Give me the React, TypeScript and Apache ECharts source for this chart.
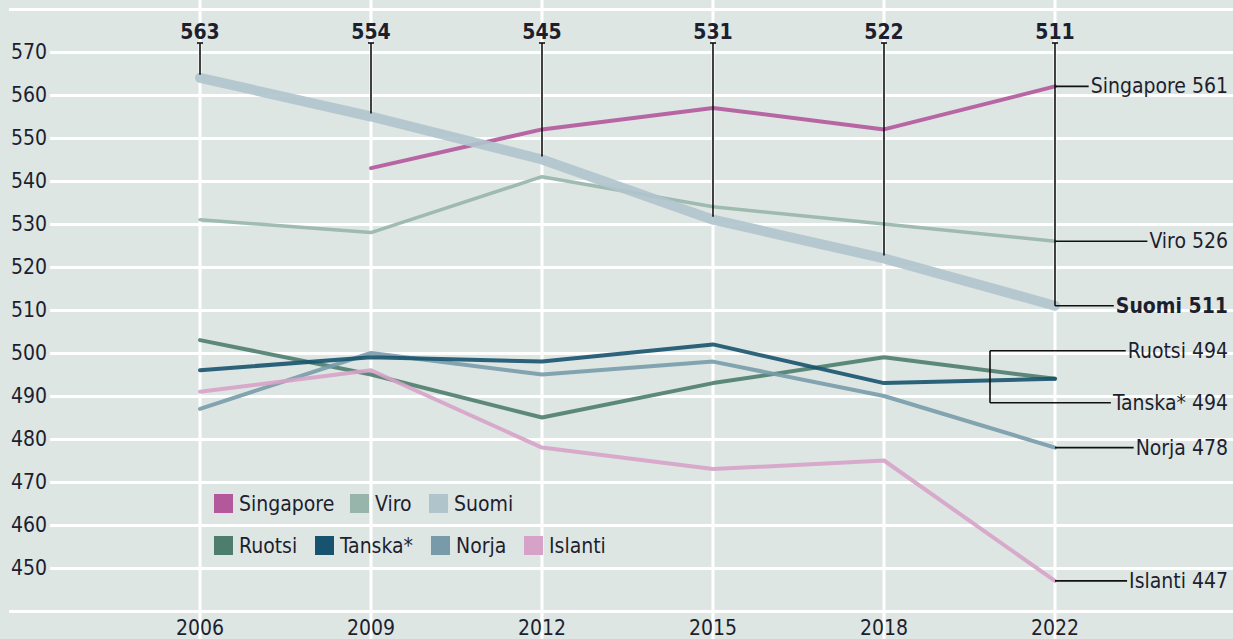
import React, { useEffect, useRef } from 'react';
import * as echarts from 'echarts';

const years = ['2006', '2009', '2012', '2015', '2018', '2022'];
const singapore = [null, 543, 552, 557, 552, 562];
const viro = [531, 528, 541, 534, 530, 526];
const suomi = [564, 555, 545, 531, 522, 511];
const ruotsi = [503, 495, 485, 493, 499, 494];
const tanska = [496, 499, 498, 502, 493, 494];
const norja = [487, 500, 495, 498, 490, 478];
const islanti = [491, 496, 478, 473, 475, 447];
const suomiTopLabels = ['563', '554', '545', '531', '522', '511'];
const endLabels = {
  Singapore: 'Singapore 561',
  Viro: 'Viro 526',
  Suomi: 'Suomi 511',
  Ruotsi: 'Ruotsi 494',
  Tanska: 'Tanska* 494',
  Norja: 'Norja 478',
  Islanti: 'Islanti 447',
};

const FONT = "'Liberation Sans Narrow', 'DejaVu Sans Condensed', sans-serif";
const BG = '#dee6e4';
const TXT = '#1d1f2e';
const FS = 21;

const defs = [
  { name: 'Singapore', data: singapore, color: '#b3589b', width: 4, z: 3 },
  { name: 'Viro', data: viro, color: '#97b5ab', width: 3.5, z: 3 },
  { name: 'Ruotsi', data: ruotsi, color: '#4e7d6e', width: 4, z: 3 },
  { name: 'Norja', data: norja, color: '#789baa', width: 4, z: 3 },
  { name: 'Islanti', data: islanti, color: '#d6a2c8', width: 4, z: 3 },
  { name: 'Tanska*', data: tanska, color: '#17536e', width: 4, z: 4 },
  { name: 'Suomi', data: suomi, color: '#b0c4cc', width: 10, z: 5 },
];

const legendPos = [
  { name: 'Singapore', left: 214, top: 493 },
  { name: 'Viro', left: 350, top: 493 },
  { name: 'Suomi', left: 429, top: 493 },
  { name: 'Ruotsi', left: 214, top: 535 },
  { name: 'Tanska*', left: 315, top: 535 },
  { name: 'Norja', left: 431, top: 535 },
  { name: 'Islanti', left: 524, top: 535 },
];

function measure(text: string, bold = false) {
  const c = document.createElement('canvas').getContext('2d')!;
  c.font = `${bold ? 'bold ' : ''}${FS}px ${FONT}`;
  return c.measureText(text).width;
}

export default function App() {
  const ref = useRef<HTMLDivElement>(null);
  useEffect(() => {
    const el = ref.current!;
    const chart = echarts.init(el, null, { renderer: 'svg' });
    const mk = (arr: (number | null)[]) =>
      arr.map((v, i) => (v == null ? null : [i, v])).filter((d) => d !== null);
    const series = defs.map((d) => ({
      name: d.name,
      type: 'line',
      data: mk(d.data),
      symbol: 'none',
      z: d.z,
      silent: true,
      lineStyle: { color: d.color, width: d.width, opacity: 0.9, cap: 'round', join: 'round' },
      itemStyle: { color: d.color },
    }));
    chart.setOption({
      animation: false,
      backgroundColor: BG,
      textStyle: { fontFamily: FONT },
      grid: { left: 9, right: 0, top: 9, bottom: 28, containLabel: false },
      xAxis: {
        type: 'value',
        min: -1.117,
        max: 6.041,
        z: 6,
        axisLine: { show: false },
        axisTick: { show: false },
        splitLine: { show: false },
        axisLabel: {
          customValues: [0, 1, 2, 3, 4, 5],
          formatter: (v: number) => (Number.isInteger(v) ? years[v] ?? '' : ''),
          fontSize: FS,
          color: TXT,
          fontFamily: FONT,
          margin: 6,
        },
      },
      yAxis: {
        type: 'value',
        min: 440,
        max: 580,
        interval: 10,
        axisLine: { show: false },
        axisTick: { show: false },
        splitLine: { lineStyle: { color: '#ffffff', width: 3 } },
        axisLabel: {
          inside: true,
          margin: 0,
          showMinLabel: false,
          showMaxLabel: false,
          fontSize: FS,
          color: TXT,
          fontFamily: FONT,
          backgroundColor: BG,
          padding: [0, 3, 0, 2],
        },
      },
      legend: legendPos.map((l) => ({
        data: [l.name],
        left: l.left,
        top: l.top,
        icon: 'rect',
        itemWidth: 19,
        itemHeight: 19,
        itemGap: 0,
        padding: 0,
        selectedMode: false,
        textStyle: { fontSize: FS, color: TXT, fontFamily: FONT, padding: [0, 0, 0, 1] },
      })),
      series,
    });

    const px = (i: number, v: number) => chart.convertToPixel({ gridIndex: 0 }, [i, v]) as number[];
    const g: any[] = [];
    const blk = { stroke: '#111', lineWidth: 1.6 };
    const line = (x1: number, y1: number, x2: number, y2: number, style: any, z: number) =>
      g.push({ type: 'line', silent: true, z, shape: { x1, y1, x2, y2 }, style });
    const text = (t: string, x: number, y: number, align: string, bold = false) =>
      g.push({
        type: 'text',
        silent: true,
        z: 20,
        x,
        y,
        style: {
          text: t,
          fill: TXT,
          font: `${bold ? 'bold ' : ''}${FS}px ${FONT}`,
          align,
          verticalAlign: 'middle',
        },
      });

    // white vertical grid lines at categories
    years.forEach((_, i) => {
      const [x] = px(i, 500);
      line(x, 0, x, 639, { stroke: '#ffffff', lineWidth: 3 }, 1);
    });

    // Suomi top labels with leader lines
    const topY = 43;
    suomi.forEach((v, i) => {
      const [x, y] = px(i, v);
      text(suomiTopLabels[i], x, 32, 'center', true);
      line(x - 3, topY, x + 3, topY, blk, 15);
      line(x, topY, x, i === suomi.length - 1 ? y : y - 3, blk, 15);
    });

    const last = years.length - 1;
    const xr = 1228;
    const [x22] = px(last, 500);
    const right = (label: string, v: number, bold = false) => {
      const [, y] = px(last, v);
      const w = measure(label, bold);
      line(x22, y, xr - w - 2, y, blk, 15);
      text(label, xr, y, 'right', bold);
    };
    right(endLabels.Singapore, singapore[last] as number);
    right(endLabels.Viro, viro[last]);
    right(endLabels.Suomi, suomi[last], true);
    right(endLabels.Norja, norja[last]);
    right(endLabels.Islanti, islanti[last]);

    // bracket for Ruotsi / Tanska
    const [, yEnd] = px(last, ruotsi[last]);
    const yR = yEnd - 28;
    const yT = yEnd + 24;
    const bx = x22 - 65;
    line(bx, yR, bx, yT, blk, 15);
    const wR = measure(endLabels.Ruotsi);
    const wT = measure(endLabels.Tanska);
    line(bx, yR, xr - wR - 2, yR, blk, 15);
    line(bx, yT, xr - wT - 2, yT, blk, 15);
    text(endLabels.Ruotsi, xr, yR, 'right');
    text(endLabels.Tanska, xr, yT, 'right');

    chart.setOption({ graphic: { elements: g } });
    return () => chart.dispose();
  }, []);
  return (
    <div
      ref={ref}
      style={{ position: 'fixed', left: 0, top: 0, width: 1233, height: 639 }}
    />
  );
}
